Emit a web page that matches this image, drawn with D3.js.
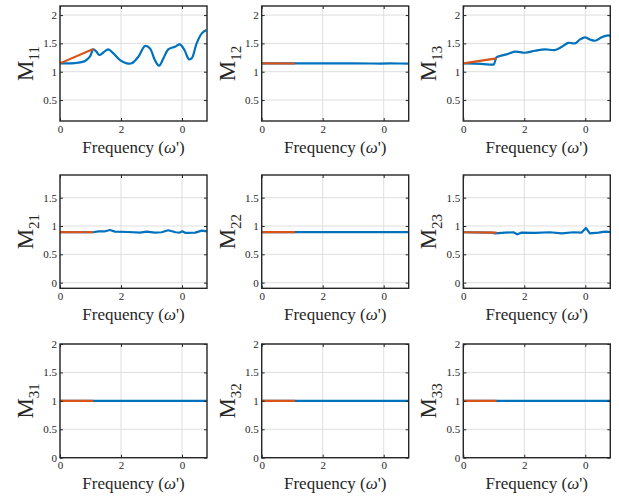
<!DOCTYPE html>
<html>
<head>
<meta charset="utf-8">
<script src="https://cdn.jsdelivr.net/npm/d3@7"></script>
<style>
  html, body { margin: 0; padding: 0; background: #fff; }
  svg { display: block; font-family: "Liberation Serif", "Times New Roman", "DejaVu Serif", serif; }
</style>
</head>
<body>
<svg id="chart" width="619" height="496"></svg>
<script>
// Data
const freqDomain = [0, 4.82];
const freqTicks = [0, 2, 4];
const freqTickLabels = ['0', '2', '0'];

const estFreq = [0, 1.09];   // orange segment

const m11Freq = [0, 0.49, 0.82, 0.98, 1.09, 1.20, 1.29, 1.42, 1.58, 1.75, 1.97, 2.19, 2.35, 2.57, 2.79, 2.95, 3.11, 3.25, 3.39, 3.55, 3.77, 3.93, 4.08, 4.23, 4.32, 4.48, 4.65, 4.80];
const m11Vals = [1.148, 1.153, 1.19, 1.265, 1.395, 1.35, 1.295, 1.34, 1.395, 1.325, 1.206, 1.148, 1.148, 1.265, 1.453, 1.41, 1.206, 1.106, 1.236, 1.395, 1.441, 1.483, 1.383, 1.218, 1.236, 1.50, 1.677, 1.735];
const m11Est = [1.148, 1.40];

const m12Freq = [0, 1.0, 2.0, 3.0, 3.6, 3.9, 4.2, 4.5, 4.82];
const m12Vals = [1.146, 1.146, 1.146, 1.147, 1.145, 1.142, 1.146, 1.145, 1.143];
const m12Est = [1.148, 1.145];

const m13Freq = [0, 0.60, 0.93, 1.0, 1.09, 1.20, 1.42, 1.70, 2.02, 2.35, 2.68, 3.01, 3.23, 3.44, 3.66, 3.83, 3.99, 4.15, 4.32, 4.54, 4.75, 4.82];
const m13Vals = [1.148, 1.14, 1.124, 1.13, 1.254, 1.277, 1.306, 1.353, 1.335, 1.37, 1.395, 1.383, 1.44, 1.51, 1.50, 1.57, 1.607, 1.57, 1.547, 1.607, 1.64, 1.63];
const m13Est = [1.148, 1.236];

const m21Freq = [0, 1.09, 1.26, 1.48, 1.64, 1.80, 2.24, 2.62, 2.84, 3.11, 3.33, 3.55, 3.79, 3.93, 4.01, 4.12, 4.43, 4.65, 4.82];
const m21Vals = [0.89, 0.889, 0.906, 0.906, 0.93, 0.90, 0.894, 0.883, 0.90, 0.883, 0.889, 0.924, 0.889, 0.883, 0.906, 0.877, 0.883, 0.918, 0.906];
const m21Est = [0.89, 0.889];

const m22Freq = [0, 1.0, 2.0, 3.0, 4.0, 4.82];
const m22Vals = [0.89, 0.89, 0.89, 0.89, 0.89, 0.89];
const m22Est = [0.89, 0.89];

const m23Freq = [0, 0.93, 1.04, 1.37, 1.64, 1.77, 1.91, 2.35, 2.84, 3.23, 3.61, 3.88, 4.02, 4.15, 4.43, 4.65, 4.82];
const m23Vals = [0.889, 0.883, 0.87, 0.883, 0.889, 0.853, 0.883, 0.877, 0.889, 0.87, 0.889, 0.883, 0.965, 0.87, 0.883, 0.90, 0.894];
const m23Est = [0.889, 0.883];

const m3xFreq = [0, 4.82];
const m31Vals = [1, 1];
const m32Vals = [1, 1];
const m33Vals = [1, 1];
const m3xEst = [1, 1];

const row1Ticks = [0.5, 1, 1.5, 2];
const row2Ticks = [0, 0.5, 1, 1.5];
const row3Ticks = [0, 0.5, 1, 1.5, 2];

// Layout
const COL_LEFT = [60, 261.7, 463.3];
const PLOT_W = 147;
const ROWS = [
    { top: 6,   bottom: 121,   domain: [0.13, 2.16], ticks: row1Ticks },
    { top: 175, bottom: 288.3, domain: [-0.1, 1.9],  ticks: row2Ticks },
    { top: 344, bottom: 457.7, domain: [0, 2],       ticks: row3Ticks }
];
const FONT = '"Liberation Serif", "Times New Roman", "DejaVu Serif", serif';
const BLUE = '#0072BD';
const ORANGE = '#D95319';
const AXIS = '#262626';
const GRID = '#dedede';
const TICK_LEN = 3;

const panels = [
    { row: 0, col: 0, sub: '11', fx: m11Freq, fy: m11Vals, est: m11Est, smooth: true },
    { row: 0, col: 1, sub: '12', fx: m12Freq, fy: m12Vals, est: m12Est },
    { row: 0, col: 2, sub: '13', fx: m13Freq, fy: m13Vals, est: m13Est, smooth: true },
    { row: 1, col: 0, sub: '21', fx: m21Freq, fy: m21Vals, est: m21Est },
    { row: 1, col: 1, sub: '22', fx: m22Freq, fy: m22Vals, est: m22Est },
    { row: 1, col: 2, sub: '23', fx: m23Freq, fy: m23Vals, est: m23Est },
    { row: 2, col: 0, sub: '31', fx: m3xFreq, fy: m31Vals, est: m3xEst },
    { row: 2, col: 1, sub: '32', fx: m3xFreq, fy: m32Vals, est: m3xEst },
    { row: 2, col: 2, sub: '33', fx: m3xFreq, fy: m33Vals, est: m3xEst }
];

const svg = d3.select('#chart');

panels.forEach(drawPanel);

function drawPanel(p) {
    const r = ROWS[p.row];
    const left = COL_LEFT[p.col];
    const x = d3.scaleLinear().domain(freqDomain).range([left, left + PLOT_W]);
    const y = d3.scaleLinear().domain(r.domain).range([r.bottom, r.top]);
    const g = svg.append('g');
    const clipId = 'clip' + p.sub;

    g.append('clipPath').attr('id', clipId)
        .append('rect')
        .attr('x', left).attr('y', r.top)
        .attr('width', PLOT_W).attr('height', r.bottom - r.top);

    // grid
    g.selectAll('.vgrid').data(freqTicks).enter()
        .append('line')
        .attr('x1', (d) => x(d)).attr('x2', (d) => x(d))
        .attr('y1', r.top).attr('y2', r.bottom)
        .attr('stroke', GRID).attr('stroke-width', 1);
    g.selectAll('.hgrid').data(r.ticks).enter()
        .append('line')
        .attr('x1', left).attr('x2', left + PLOT_W)
        .attr('y1', (d) => y(d)).attr('y2', (d) => y(d))
        .attr('stroke', GRID).attr('stroke-width', 1);

    // lines
    const line = d3.line()
        .x((d) => x(d[0]))
        .y((d) => y(d[1]))
        .curve(p.smooth ? d3.curveCatmullRom.alpha(0.5) : d3.curveLinear);

    const plot = g.append('g').attr('clip-path', 'url(#' + clipId + ')');
    plot.append('path')
        .datum(p.fx.map((f, i) => [f, p.fy[i]]))
        .attr('d', line)
        .attr('fill', 'none')
        .attr('stroke', BLUE)
        .attr('stroke-width', 2.2)
        .attr('stroke-linejoin', 'round');
    plot.append('path')
        .datum(estFreq.map((f, i) => [f, p.est[i]]))
        .attr('d', d3.line().x((d) => x(d[0])).y((d) => y(d[1])))
        .attr('fill', 'none')
        .attr('stroke', ORANGE)
        .attr('stroke-width', 2.2);

    // axes (ticks point inward, box on all sides)
    const xBottom = d3.axisBottom(x).tickValues(freqTicks)
        .tickFormat((d, i) => freqTickLabels[i])
        .tickSizeInner(-TICK_LEN).tickSizeOuter(0).tickPadding(4);
    const xTop = d3.axisTop(x).tickValues(freqTicks)
        .tickFormat('').tickSizeInner(-TICK_LEN).tickSizeOuter(0);
    const yLeft = d3.axisLeft(y).tickValues(r.ticks)
        .tickFormat(d3.format('~g'))
        .tickSizeInner(-TICK_LEN).tickSizeOuter(0).tickPadding(3);
    const yRight = d3.axisRight(y).tickValues(r.ticks)
        .tickFormat('').tickSizeInner(-TICK_LEN).tickSizeOuter(0);

    [
        g.append('g').attr('transform', 'translate(0,' + r.bottom + ')').call(xBottom),
        g.append('g').attr('transform', 'translate(0,' + r.top + ')').call(xTop),
        g.append('g').attr('transform', 'translate(' + left + ',0)').call(yLeft),
        g.append('g').attr('transform', 'translate(' + (left + PLOT_W) + ',0)').call(yRight)
    ].forEach((a) => {
        a.attr('font-family', FONT).attr('font-size', 11);
        a.select('.domain').remove();
        a.selectAll('.tick line').attr('stroke', AXIS).attr('stroke-width', 1);
        a.selectAll('.tick text').attr('fill', AXIS);
    });

    g.append('rect')
        .attr('x', left).attr('y', r.top)
        .attr('width', PLOT_W).attr('height', r.bottom - r.top)
        .attr('fill', 'none')
        .attr('stroke', AXIS).attr('stroke-width', 1.4);

    // labels
    const xlab = g.append('text')
        .attr('x', left + PLOT_W / 2)
        .attr('y', r.bottom + 31.5)
        .attr('text-anchor', 'middle')
        .attr('fill', AXIS)
        .attr('font-family', FONT)
        .style('font-size', '17px');
    xlab.append('tspan').text('Frequency (');
    xlab.append('tspan').style('font-style', 'italic').text('ω');
    xlab.append('tspan').text("')");

    const ylab = g.append('text')
        .attr('transform', 'translate(' + (left - 27) + ',' + ((r.top + r.bottom) / 2) + ') rotate(-90)')
        .attr('text-anchor', 'middle')
        .attr('fill', AXIS)
        .attr('font-family', FONT)
        .style('font-size', '23px');
    ylab.append('tspan').text('M');
    ylab.append('tspan').attr('dy', 6).style('font-size', '15px').text(p.sub);
}
</script>
</body>
</html>
